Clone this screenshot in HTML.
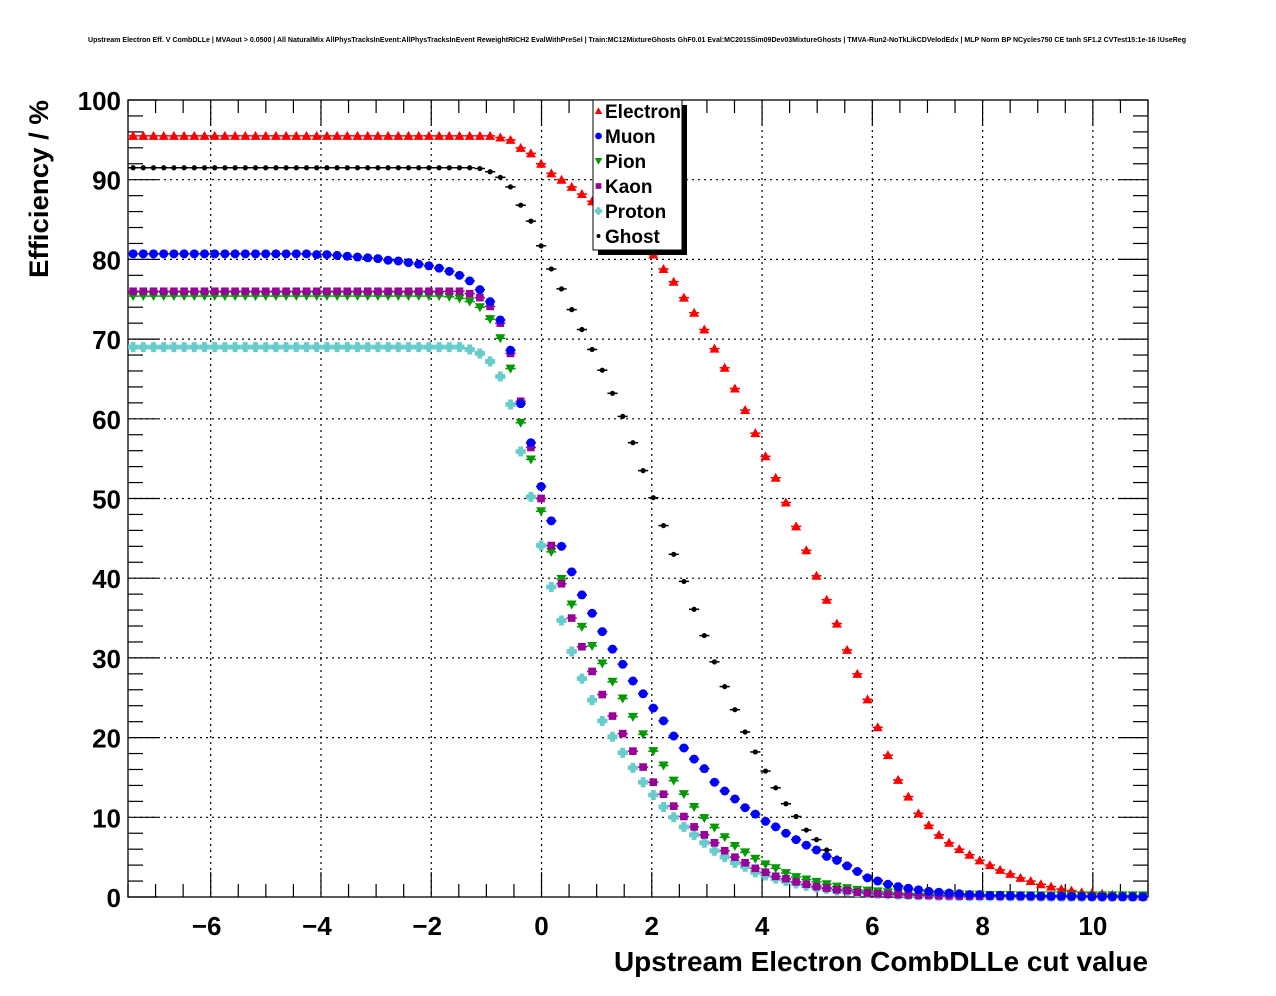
<!DOCTYPE html>
<html><head><meta charset="utf-8"><style>
body{margin:0;background:#fff;}
svg{display:block;font-family:"Liberation Sans",sans-serif;}
</style></head><body>
<svg id="chart" width="1276" height="996" viewBox="0 0 1276 996" xmlns="http://www.w3.org/2000/svg">
<rect width="1276" height="996" fill="#fff"/>
<text x="88" y="42" font-size="7" font-weight="bold" textLength="1098" lengthAdjust="spacingAndGlyphs">Upstream Electron Eff. V CombDLLe | MVAout &gt; 0.0500 | All NaturalMix AllPhysTracksInEvent:AllPhysTracksInEvent ReweightRICH2 EvalWithPreSel | Train:MC12MixtureGhosts GhF0.01 Eval:MC2015Sim09Dev03MixtureGhosts | TMVA-Run2-NoTkLikCDVelodEdx | MLP Norm BP NCycles750 CE tanh SF1.2 CVTest15:1e-16 !UseReg</text>
<g id="grid"></g>
<g id="axes"></g>
<g id="series"></g>
<text x="1148" y="971" font-size="28" font-weight="bold" text-anchor="end" textLength="534" lengthAdjust="spacingAndGlyphs">Upstream Electron CombDLLe cut value</text>
<text transform="translate(48,100) rotate(-90)" font-size="27" font-weight="bold" text-anchor="end" textLength="178" lengthAdjust="spacingAndGlyphs">Efficiency / %</text>
<g id="legend"></g>
</svg>
<script>
const binStart = -7.5;
const binWidth = 0.185;
const xTicks = [-6,-4,-2,0,2,4,6,8,10];
const yTicks = [0,10,20,30,40,50,60,70,80,90,100];
const seriesNames = ["Electron","Muon","Pion","Kaon","Proton","Ghost"];
const electron = [95.5,95.5,95.5,95.5,95.5,95.5,95.5,95.5,95.5,95.5,95.5,95.5,95.5,95.5,95.5,95.5,95.5,95.5,95.5,95.5,95.5,95.5,95.5,95.5,95.5,95.5,95.5,95.5,95.5,95.5,
95.5,95.5,95.5,95.5,95.5,95.5,95.3,95.0,94.0,93.3,92.0,90.8,90.0,89.1,88.2,87.3,86.3,85.3,84.2,83.0,81.8,
80.6,78.8,77.2,75.2,73.3,71.2,68.8,66.4,63.8,61.1,58.2,55.3,52.6,49.5,46.5,43.5,40.3,37.3,34.3,31.0,28.0,24.8,21.3,17.8,14.7,12.6,10.5,9.0,7.8,6.8,6.0,5.3,4.6,4.0,3.4,2.9,2.4,2.0,1.6,1.3,1.0,0.8,0.6,0.5,0.4,0.3,0.2,0.15,0.1];
const muon = [80.7,80.7,80.7,80.7,80.7,80.7,80.7,80.7,80.7,80.7,80.7,80.7,80.7,80.7,80.7,80.7,80.7,80.7,80.6,80.6,80.5,80.4,80.3,80.2,
80.1,79.9,79.8,79.6,79.4,79.2,78.9,78.5,78.0,77.3,76.2,74.7,72.4,68.6,61.9,57.0,51.5,47.2,44.0,40.8,37.9,35.6,33.3,31.1,29.2,27.1,25.5,23.7,22.1,20.2,18.7,17.3,16.1,14.4,13.3,12.3,11.2,10.4,9.5,8.8,8.0,7.2,6.5,5.9,5.1,4.6,3.9,3.2,2.4,2.0,1.6,
1.3,1.1,0.9,0.7,0.6,0.5,0.4,0.3,0.3,0.2,0.2,0.15,0.15,0.12,0.1,0.1,0.1,0.08,0.08,0.06,0.05,0.05,0.04,0.03,0.03];
const pion = [75.4,75.4,75.4,75.4,75.4,75.4,75.4,75.4,75.4,75.4,75.4,75.4,75.4,75.4,75.4,75.4,75.4,75.4,75.4,75.4,75.4,75.4,75.4,75.4,75.4,75.4,75.4,75.4,75.4,75.4,75.4,
75.3,75.1,74.7,74.0,72.5,70.1,66.3,59.5,54.9,48.4,43.3,39.9,36.7,33.9,31.5,29.3,27.0,24.9,22.6,20.4,18.3,16.5,14.6,12.9,11.3,9.9,8.7,7.5,6.4,5.6,4.8,4.1,3.6,3.0,2.5,2.2,1.9,1.6,1.3,1.1,0.9,0.8,0.7,0.6,
0.5,0.45,0.4,0.4,0.35,0.35,0.3,0.3,0.3,0.25,0.25,0.25,0.2,0.2,0.2,0.2,0.2,0.2,0.2,0.2,0.2,0.2,0.2,0.2,0.2];
const kaon = [76.0,76.0,76.0,76.0,76.0,76.0,76.0,76.0,76.0,76.0,76.0,76.0,76.0,76.0,76.0,76.0,76.0,76.0,76.0,76.0,76.0,76.0,76.0,76.0,76.0,76.0,76.0,76.0,76.0,76.0,76.0,
76.0,76.0,75.7,75.2,74.1,72.0,68.2,62.2,56.4,50.0,44.1,39.3,35.0,31.4,28.3,25.4,22.7,20.5,18.3,16.3,14.4,12.9,11.4,10.1,8.8,7.8,6.8,5.8,5.0,4.3,3.6,3.1,2.6,2.3,1.9,1.6,1.3,1.1,0.9,0.8,0.6,0.5,0.4,0.35,
0.3,0.25,0.2,0.2,0.15,0.15,0.12,0.1,0.1,0.1,0.08,0.08,0.06,0.06,0.05,0.05,0.04,0.04,0.03,0.03,0.02,0.02,0.02,0.01,0.01];
const proton = [69.0,69.0,69.0,69.0,69.0,69.0,69.0,69.0,69.0,69.0,69.0,69.0,69.0,69.0,69.0,69.0,69.0,69.0,69.0,69.0,69.0,69.0,69.0,69.0,69.0,69.0,69.0,69.0,69.0,69.0,69.0,69.0,
69.0,68.7,68.2,67.2,65.3,61.8,55.9,50.2,44.1,38.9,34.7,30.8,27.4,24.7,22.1,20.1,18.1,16.2,14.4,12.8,11.3,10.0,8.8,7.8,6.8,5.8,5.0,4.3,3.8,3.1,2.7,2.3,2.0,1.7,1.4,1.2,1.0,0.8,0.7,0.6,0.5,0.4,0.35,
0.3,0.25,0.2,0.2,0.15,0.15,0.12,0.1,0.1,0.1,0.08,0.08,0.06,0.06,0.05,0.05,0.04,0.04,0.03,0.03,0.02,0.02,0.02,0.01,0.01];
const ghost = [91.5,91.5,91.5,91.5,91.5,91.5,91.5,91.5,91.5,91.5,91.5,91.5,91.5,91.5,91.5,91.5,91.5,91.5,91.5,91.5,91.5,91.5,91.5,91.5,91.5,91.5,91.5,91.5,91.5,91.5,91.5,91.5,91.5,
91.5,91.4,91.0,90.3,89.1,86.8,84.8,81.7,78.8,76.3,73.7,71.2,68.7,66.1,63.2,60.3,57.0,53.5,50.1,46.6,43.0,39.6,36.1,32.8,29.5,26.4,23.5,20.7,18.2,15.8,13.7,11.7,10.1,8.4,7.2,5.9,4.9,4.0,3.3,2.6,2.1,1.7,
1.4,1.1,0.9,0.7,0.6,0.5,0.4,0.35,0.3,0.25,0.2,0.2,0.15,0.15,0.12,0.1,0.1,0.08,0.08,0.06,0.05,0.05,0.04,0.03,0.03];

const X0=128, X1=1148, Y0=100, Y1=897, XMIN=-7.5, XMAX=11, YMIN=0, YMAX=100;
const NS="http://www.w3.org/2000/svg";
function sx(v){return X0+(v-XMIN)/(XMAX-XMIN)*(X1-X0);}
function sy(v){return Y1-(v-YMIN)/(YMAX-YMIN)*(Y1-Y0);}
function mk(tag,attrs,parent){const e=document.createElementNS(NS,tag);for(const k in attrs)e.setAttribute(k,attrs[k]);parent.appendChild(e);return e;}
const grid=document.getElementById('grid'), axes=document.getElementById('axes'), ser=document.getElementById('series'), leg=document.getElementById('legend');

xTicks.forEach(t=>{const l=mk('line',{x1:sx(t),x2:sx(t),y1:Y0,y2:Y1,stroke:'#000','stroke-width':1.2,'stroke-dasharray':'2,4'},grid);

});
yTicks.forEach(t=>{if(t===0||t===100)return;const l=mk('line',{x1:X0,x2:X1,y1:sy(t),y2:sy(t),stroke:'#000','stroke-width':1.2,'stroke-dasharray':'2,4'},grid);

});

const frame=mk('rect',{x:X0,y:Y0,width:X1-X0,height:Y1-Y0,fill:'none',stroke:'#000','stroke-width':1.3},axes);


for(let v=-7.5; v<=11.001; v+=0.5){const maj=Math.abs(v%2)<1e-6;const len=maj?25:13;
 mk('line',{x1:sx(v),x2:sx(v),y1:Y1,y2:Y1-len,stroke:'#000','stroke-width':1.2},axes);
 mk('line',{x1:sx(v),x2:sx(v),y1:Y0,y2:Y0+len,stroke:'#000','stroke-width':1.2},axes);}
xTicks.forEach(t=>{const tx=mk('text',{x:sx(t)-(t<0?4:0),y:935,'font-size':26,'font-weight':'bold','text-anchor':'middle'},axes);
tx.textContent=(t<0?'\u2212'+Math.abs(t):String(t));

});
for(let v=0; v<=100; v+=2){const maj=v%10===0;const len=maj?30:15;
 mk('line',{x1:X0,x2:X0+len,y1:sy(v),y2:sy(v),stroke:'#000','stroke-width':1.2},axes);
 mk('line',{x1:X1,x2:X1-len,y1:sy(v),y2:sy(v),stroke:'#000','stroke-width':1.2},axes);}
yTicks.forEach(t=>{const tx=mk('text',{x:121,y:sy(t)+10,'font-size':26,'font-weight':'bold','text-anchor':'end'},axes);
tx.textContent=String(t);

});

const colors={Electron:'#ff0000',Muon:'#0000ff',Pion:'#009900',Kaon:'#990099',Proton:'#66cccc',Ghost:'#000000'};
const dataMap={Electron:electron,Muon:muon,Pion:pion,Kaon:kaon,Proton:proton,Ghost:ghost};
function marker(name,cx,cy,g,scale){const c=colors[name];const s=scale||1;
 if(name==='Electron'){const r=5*s;return mk('polygon',{points:`${cx},${cy-r} ${cx-r},${cy+r*0.8} ${cx+r},${cy+r*0.8}`,fill:c},g);}
 if(name==='Muon'){return mk('circle',{cx:cx,cy:cy,r:4.5*s,fill:c},g);}
 if(name==='Pion'){const r=5*s;return mk('polygon',{points:`${cx},${cy+r} ${cx-r},${cy-r*0.8} ${cx+r},${cy-r*0.8}`,fill:c},g);}
 if(name==='Kaon'){const r=3.8*s;return mk('rect',{x:cx-r,y:cy-r,width:2*r,height:2*r,fill:c},g);}
 if(name==='Proton'){const r=5*s,w=2.4*s;return mk('path',{d:`M${cx-w},${cy-r}h${2*w}v${r-w}h${r-w}v${2*w}h${-(r-w)}v${r-w}h${-2*w}v${-(r-w)}h${-(r-w)}v${-2*w}h${r-w}z`,fill:c},g);}
 return mk('circle',{cx:cx,cy:cy,r:2.6*s,fill:c},g);}
["Ghost","Electron","Proton","Pion","Kaon","Muon"].forEach(name=>{
 const g=mk('g',{},ser);
 
 
 dataMap[name].forEach((v,i)=>{const xc=binStart+binWidth*(i+0.5);const px=sx(xc),py=sy(v);
  if(py>Y1+1)return;
  const eb=mk('line',{x1:sx(xc-binWidth/2),x2:sx(xc+binWidth/2),y1:py,y2:py,stroke:colors[name],'stroke-width':1.5},g);
  
  
  const m=marker(name,px,py,g);
  
  });
});
const sh=mk('rect',{x:598,y:105,width:89,height:150,fill:'#000'},leg);


const box=mk('rect',{x:593,y:100,width:89,height:150,fill:'#fff',stroke:'#000','stroke-width':1},leg);


seriesNames.forEach((name,k)=>{const y=111+k*25;
 const g=mk('g',{},leg);
 
 
 marker(name,598.5,y,g,0.75);
 const t=mk('text',{x:605,y:y+7,'font-size':19,'font-weight':'bold'},g);
 t.textContent=name;});
</script>
</body></html>
